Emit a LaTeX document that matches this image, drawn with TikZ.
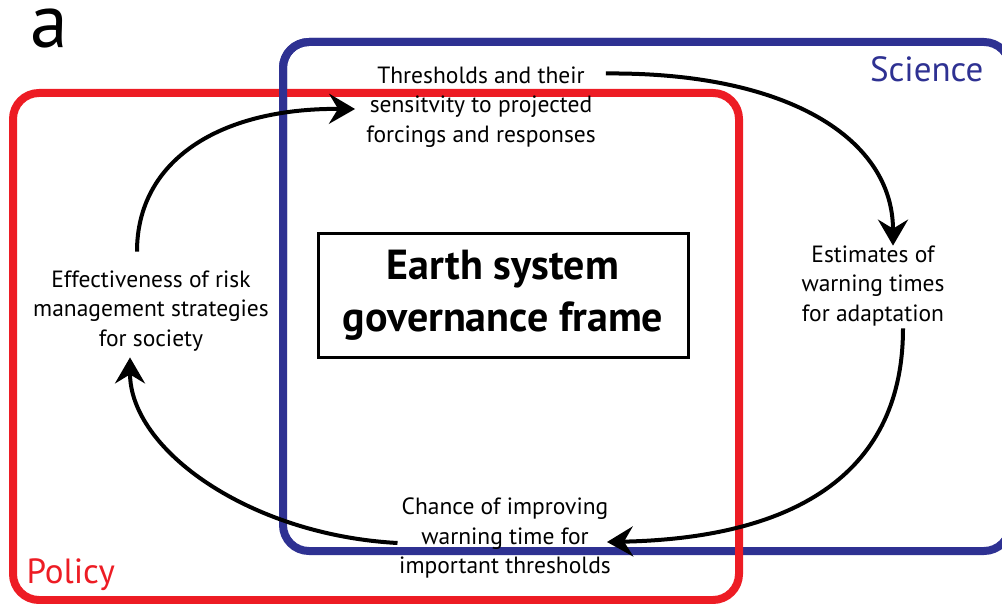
\documentclass[tikz,border=0pt]{standalone}
\usepackage{fontspec}
\setmainfont{PT Sans}
\usetikzlibrary{arrows.meta,calc}
\definecolor{polred}{RGB}{237,28,36}
\definecolor{sciblue}{RGB}{46,49,146}
\tikzset{
  frame/.style={line width=8pt, rounded corners=26pt},
  lbl/.style={align=center, inner sep=0pt, font=\fontsize{23.5}{29.5}\selectfont},
  flow/.style={line width=4pt, -{Stealth[length=26pt,width=30pt,inset=9pt]}},
}
\begin{document}
\begin{tikzpicture}[x=1pt,y=-1pt]
\useasboundingbox (0,0) rectangle (1002,604);
\begin{scope}
\clip (0,0) rectangle (1002,604);
\draw[frame, sciblue] (283,42) rectangle (1010,551);
\draw[frame, polred] (13,93) rectangle (739,600);
\draw[frame, sciblue] (283,300) -- (283,42) -- (700,42);
\end{scope}
\node[font=\fontsize{76}{76}\selectfont, anchor=base west, inner sep=0pt] (a) at (30,48) {a};
\node[font=\fontsize{35}{35}\selectfont, text=sciblue, anchor=base east] (sci) at (987,82) {Science};
\node[font=\fontsize{35}{35}\selectfont, text=polred, anchor=base west] (pol) at (23,583) {Policy};
\node[draw, line width=3pt, minimum width=370pt, minimum height=123pt, align=center,
      font=\bfseries\fontsize{42}{52}\selectfont] (esg) at (503,295.5) {Earth system\\governance frame};
\node[lbl] (thr) at (481,107) {Thresholds and their\\sensitvity to projected\\forcings and responses};
\node[lbl] (est) at (873,286) {Estimates of\\warning times\\for adaptation};
\node[lbl] (eff) at (151,311) {Effectiveness of risk\\management strategies\\for society};
\node[lbl] (cha) at (505,538) {Chance of improving\\warning time for\\important thresholds};
\draw[flow] ([shift={(10,7)}]thr.north east) .. controls (790,72) and (893,140) .. ([shift={(20,0)}]est.north);
\draw[flow] ([shift={(30,2)}]est.south) .. controls (903,470) and (800,538) .. ([shift={(-4,4)}]cha.east);
\draw[flow] ([shift={(-1.5,5)}]cha.west) .. controls (250,535) and (130,450) .. ([shift={(-21,6)}]eff.south);
\draw[flow] ([shift={(-14,-19)}]eff.north) .. controls (137,160) and (220,108) .. ([shift={(-11,2)}]thr.west);
\end{tikzpicture}
\end{document}
